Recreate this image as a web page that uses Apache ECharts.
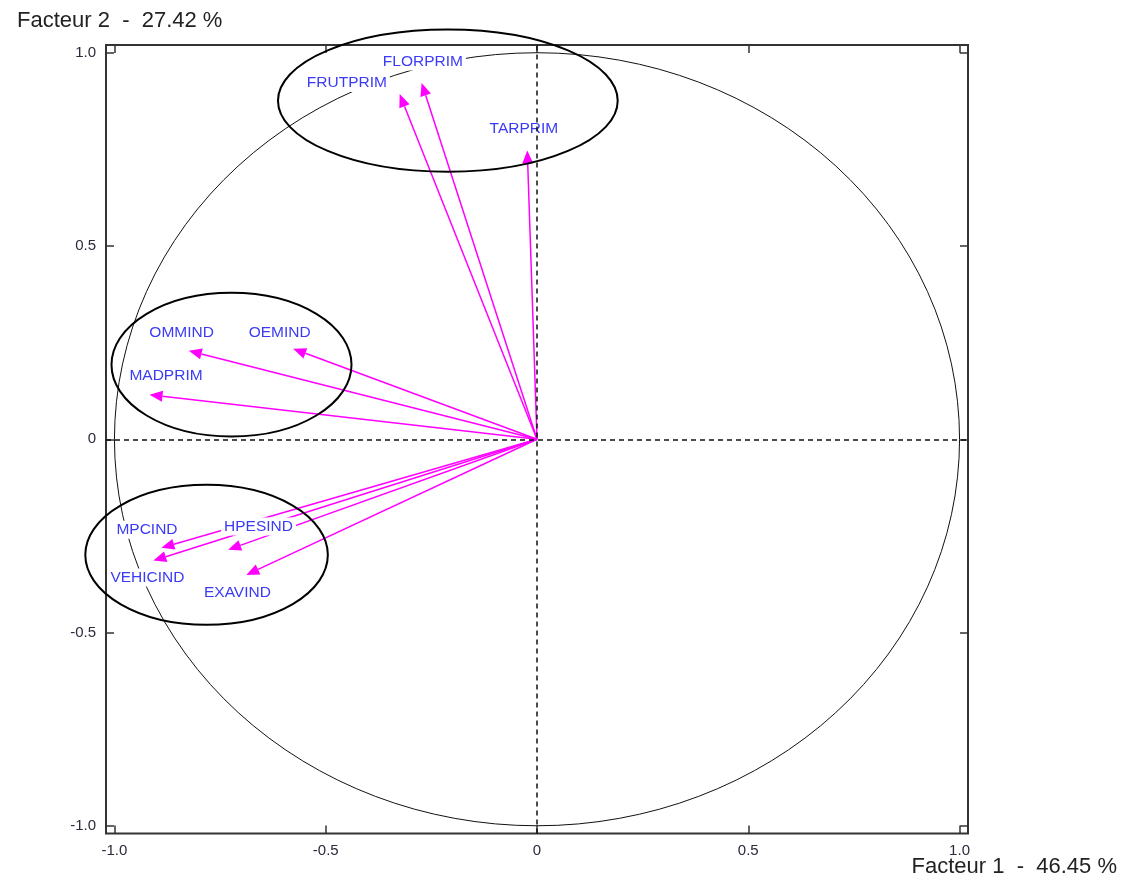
<!DOCTYPE html>
<html>
<head>
<meta charset="utf-8">
<script src="https://cdn.jsdelivr.net/npm/echarts@6/dist/echarts.min.js"></script>
<style>
  html, body { margin: 0; padding: 0; background: #fff; }
  #chart { width: 1126px; height: 882px; }
</style>
</head>
<body>
<div id="chart"></div>
<script>
// variables of the correlation circle (factor 1 / factor 2 coordinates)
const variables = ['FLORPRIM', 'FRUTPRIM', 'TARPRIM', 'OMMIND', 'OEMIND', 'MADPRIM', 'MPCIND', 'VEHICIND', 'HPESIND', 'EXAVIND']
const factor1 = [-0.273, -0.325, -0.023, -0.824, -0.577, -0.917, -0.889, -0.908, -0.731, -0.688]
const factor2 = [0.922, 0.893, 0.747, 0.229, 0.234, 0.115, -0.281, -0.314, -0.286, -0.351]
// where each name is written (same axis units)
const labelX = [-0.270, -0.450, -0.031, -0.841, -0.609, -0.878, -0.923, -0.922, -0.659, -0.709]
const labelY = [0.977, 0.922, 0.803, 0.276, 0.276, 0.164, -0.234, -0.358, -0.226, -0.397]
// hand drawn groups: center x, center y, radius x, radius y
const groupCx = [-0.211, -0.723, -0.782]
const groupCy = [0.876, 0.193, -0.299]
const groupRx = [0.402, 0.284, 0.287]
const groupRy = [0.184, 0.186, 0.181]
const ticks = [-1, -0.5, 0, 0.5, 1]
const xTitle = 'Facteur 1  -  46.45 %'
const yTitle = 'Facteur 2  -  27.42 %'

const font = 'Arial, "Liberation Sans", sans-serif'
const chart = echarts.init(document.getElementById('chart'))

function ellipsePath(api) {
  const c = api.coord([api.value(0), api.value(1)])
  const s = api.size([api.value(2), api.value(3)])
  const x = c[0], y = c[1], rx = s[0], ry = s[1]
  return 'M' + (x - rx) + ' ' + y +
    ' A' + rx + ' ' + ry + ' 0 1 0 ' + (x + rx) + ' ' + y +
    ' A' + rx + ' ' + ry + ' 0 1 0 ' + (x - rx) + ' ' + y + ' Z'
}

function axisCommon(pos, showLabel) {
  return {
    type: 'value',
    position: pos,
    min: -1.02,
    max: 1.02,
    axisLine: { show: false, onZero: false },
    splitLine: { show: false },
    axisTick: {
      show: true, inside: true, length: 8,
      customValues: ticks,
      lineStyle: { color: '#333', width: 1.5 }
    },
    axisLabel: {
      show: showLabel,
      customValues: ticks,
      formatter: (v) => (v === 0 ? '0' : v.toFixed(1)),
      color: '#2a2a3a',
      fontSize: 15,
      fontFamily: font,
      margin: 10
    }
  }
}

chart.setOption({
  animation: false,
  title: [
    { text: yTitle, left: 17, top: 10, padding: 0,
      textStyle: { fontSize: 22, fontWeight: 'normal', color: '#222', fontFamily: font } },
    { text: xTitle, right: 9, top: 856, padding: 0,
      textStyle: { fontSize: 22, fontWeight: 'normal', color: '#222', fontFamily: font } }
  ],
  grid: {
    left: 106, right: 158, top: 45, bottom: 48.5,
    show: true, borderColor: '#333', borderWidth: 2, backgroundColor: 'transparent'
  },
  xAxis: [axisCommon('bottom', true), axisCommon('top', false)],
  yAxis: [axisCommon('left', true), axisCommon('right', false)],
  series: [
    {
      // unit circle + dashed axes through origin
      type: 'custom',
      z: 1,
      data: [[0, 0, 1, 1]],
      renderItem: (params, api) => ({
        type: 'path',
        shape: { pathData: ellipsePath(api) },
        style: { fill: 'none', stroke: '#111', lineWidth: 1 }
      }),
      markLine: {
        silent: true,
        symbol: ['none', 'none'],
        label: { show: false },
        lineStyle: { type: [5, 4], color: '#111', width: 1.5 },
        data: [{ xAxis: 0 }, { yAxis: 0 }]
      }
    },
    {
      // arrows from origin
      type: 'custom',
      z: 2,
      data: variables.map((name, i) => [factor1[i], factor2[i]]),
      renderItem: (params, api) => {
        const o = api.coord([0, 0])
        const t = api.coord([api.value(0), api.value(1)])
        const dx = t[0] - o[0], dy = t[1] - o[1]
        const len = Math.sqrt(dx * dx + dy * dy)
        const ux = dx / len, uy = dy / len
        const hl = 13, hw = 5.5
        const bx = t[0] - ux * hl, by = t[1] - uy * hl
        return {
          type: 'group',
          children: [
            { type: 'line', shape: { x1: o[0], y1: o[1], x2: bx, y2: by },
              style: { stroke: '#ff00ff', lineWidth: 1.5 } },
            { type: 'polygon',
              shape: { points: [[t[0], t[1]], [bx - uy * hw, by + ux * hw], [bx + uy * hw, by - ux * hw]] },
              style: { fill: '#ff00ff' } }
          ]
        }
      }
    },
    {
      // variable names
      type: 'custom',
      z: 3,
      data: variables.map((name, i) => [labelX[i], labelY[i], name]),
      renderItem: (params, api) => {
        const p = api.coord([api.value(0), api.value(1)])
        return {
          type: 'text',
          x: p[0], y: p[1],
          style: {
            text: variables[params.dataIndex],
            fill: '#3b3bf6',
            font: '15.5px ' + font,
            align: 'center',
            verticalAlign: 'middle',
            backgroundColor: '#fff',
            padding: [1, 3]
          }
        }
      }
    },
    {
      // hand drawn groups
      type: 'custom',
      z: 4,
      clip: false,
      data: groupCx.map((c, i) => [c, groupCy[i], groupRx[i], groupRy[i]]),
      renderItem: (params, api) => ({
        type: 'path',
        shape: { pathData: ellipsePath(api) },
        style: { fill: 'none', stroke: '#000', lineWidth: 2 }
      })
    }
  ]
})
</script>
</body>
</html>
